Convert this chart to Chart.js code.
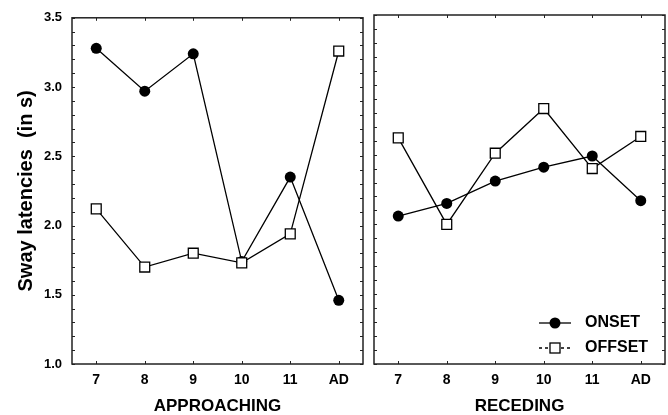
<!DOCTYPE html>
<html>
<head>
<meta charset="utf-8">
<script src="https://cdn.jsdelivr.net/npm/chart.js@4/dist/chart.umd.min.js"></script>
<style>
  body { margin: 0; background: #fff; }
  #left { position: absolute; left: 0; top: 0; }
  #right { position: absolute; left: 366px; top: 0; }
</style>
</head>
<body>
<canvas id="left" width="366" height="415"></canvas>
<canvas id="right" width="302" height="415"></canvas>
<script>
var distancias = ['7', '8', '9', '10', '11', 'AD'];
var yTicks = [1.0, 1.5, 2.0, 2.5, 3.0, 3.5];

var approachOnset = [3.28, 2.97, 3.24, 1.74, 2.35, 1.46];
var approachOffset = [2.12, 1.70, 1.80, 1.73, 1.94, 3.26];
var recedeOnset = [2.06, 2.15, 2.31, 2.41, 2.49, 2.17];
var recedeOffset = [2.62, 2.00, 2.51, 2.83, 2.40, 2.63];

var fonte = 'Liberation Sans, Arial, sans-serif';

// moldura + ticks pra dentro
var moldura = {
    id: 'moldura',
    afterDatasetsDraw: function(chart){
        var ctx = chart.ctx;
        var a = chart.chartArea;
        var x = chart.scales.x;
        var y = chart.scales.y;
        ctx.save();
        ctx.strokeStyle = '#222';
        ctx.lineWidth = 1;
        for(var v = 10; v <= 35; v++){
            var py = Math.round(y.getPixelForValue(v / 10)) + 0.5;
            ctx.beginPath();
            ctx.moveTo(a.left, py); ctx.lineTo(a.left + 3, py);
            ctx.moveTo(a.right, py); ctx.lineTo(a.right - 3, py);
            ctx.stroke();
        }
        for(var i = 0; i < distancias.length; i++){
            var px = Math.round(x.getPixelForValue(i)) + 0.5;
            ctx.beginPath();
            ctx.moveTo(px, a.top); ctx.lineTo(px, a.top + 3);
            ctx.moveTo(px, a.bottom); ctx.lineTo(px, a.bottom - 3);
            ctx.stroke();
        }
        ctx.lineWidth = 1.5;
        ctx.strokeRect(a.left, a.top, a.right - a.left, a.bottom - a.top);
        ctx.restore();
    }
};

// legenda no canto inferior direito
var legenda = {
    id: 'legenda',
    afterDraw: function(chart){
        var ctx = chart.ctx;
        var a = chart.chartArea;
        var cx = a.left + 181;
        ctx.save();
        ctx.strokeStyle = '#000';
        ctx.lineWidth = 1.3;
        ctx.beginPath();
        ctx.moveTo(cx - 16, 323); ctx.lineTo(cx + 16, 323);
        ctx.stroke();
        ctx.fillStyle = '#000';
        ctx.beginPath();
        ctx.arc(cx, 323, 5.5, 0, Math.PI * 2);
        ctx.fill();

        ctx.setLineDash([3, 3]);
        ctx.beginPath();
        ctx.moveTo(cx - 16, 348); ctx.lineTo(cx - 6, 348);
        ctx.moveTo(cx + 6, 348); ctx.lineTo(cx + 16, 348);
        ctx.stroke();
        ctx.setLineDash([]);
        ctx.fillStyle = '#fff';
        ctx.fillRect(cx - 5, 343, 10, 10);
        ctx.strokeRect(cx - 5, 343, 10, 10);

        ctx.fillStyle = '#000';
        ctx.font = 'bold 16px ' + fonte;
        ctx.textBaseline = 'middle';
        ctx.fillText('ONSET', cx + 30, 323);
        ctx.fillText('OFFSET', cx + 30, 348);
        ctx.restore();
    }
};

function montaDatasets(onset, offset){
    return [{
        label: 'ONSET',
        data: onset,
        borderColor: '#000',
        backgroundColor: '#000',
        borderWidth: 1.3,
        pointStyle: 'circle',
        pointRadius: 5.5,
        pointBackgroundColor: '#000',
        pointBorderWidth: 0,
        tension: 0,
        order: 1
    }, {
        label: 'OFFSET',
        data: offset,
        borderColor: '#000',
        backgroundColor: '#fff',
        borderWidth: 1.3,
        pointStyle: 'rect',
        pointRadius: 7,
        pointBackgroundColor: '#fff',
        pointBorderColor: '#000',
        pointBorderWidth: 1.3,
        tension: 0,
        order: 0
    }];
}

function chart(id, onset, offset, titulo, comEixo, plugins){
    var ctx = document.getElementById(id);
    return new Chart(ctx, {
        type: 'line',
        data: {
            labels: distancias,
            datasets: montaDatasets(onset, offset)
        },
        options: {
            responsive: false,
            animation: false,
            layout: { autoPadding: false, padding: { top: 15, right: 3, left: 0, bottom: 0 } },
            plugins: { legend: { display: false }, tooltip: { enabled: false } },
            scales: {
                x: {
                    offset: true,
                    grid: { display: false, drawTicks: false },
                    border: { display: false },
                    ticks: { color: '#000', font: { family: fonte, size: 14, weight: 'bold' }, padding: 8 },
                    title: { display: true, text: titulo, color: '#000', font: { family: fonte, size: 17, weight: 'bold', lineHeight: 1 }, padding: 0 },
                    afterFit: function(s){ s.height = 51; }
                },
                y: {
                    min: 1.0,
                    max: 3.5,
                    grid: { display: false, drawTicks: false },
                    border: { display: false },
                    afterBuildTicks: function(s){ s.ticks = yTicks.map(function(v){ return { value: v }; }); },
                    ticks: {
                        display: comEixo,
                        color: '#000',
                        padding: 10,
                        font: { family: fonte, size: 13, weight: 'bold' },
                        callback: function(v){ return v.toFixed(1); }
                    },
                    title: { display: comEixo, text: 'Sway latencies  (in s)', color: '#000', font: { family: fonte, size: 20, weight: 'bold', lineHeight: 1 }, padding: { top: 16, bottom: 0 } },
                    afterFit: function(s){ s.width = comEixo ? 72 : 8; }
                }
            }
        },
        plugins: plugins
    });
}

chart('left', approachOnset, approachOffset, 'APPROACHING', true, [moldura]);
chart('right', recedeOnset, recedeOffset, 'RECEDING', false, [moldura, legenda]);
</script>
</body>
</html>
